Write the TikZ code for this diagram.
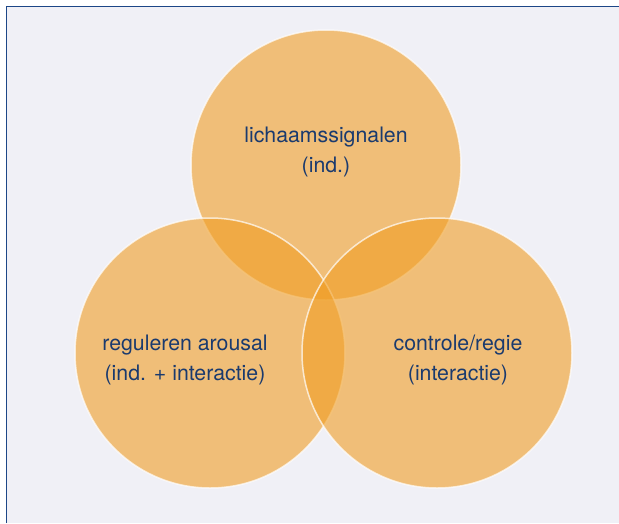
\documentclass[tikz,border=0pt]{standalone}
\usepackage{fontspec}
\setmainfont{TeX Gyre Heros}
\definecolor{bgpanel}{RGB}{240,240,246}
\definecolor{framecol}{RGB}{28,70,135}
\definecolor{circfill}{RGB}{240,158,36}
\definecolor{textnavy}{RGB}{26,58,110}
\tikzset{
  venn/.style={fill=circfill, fill opacity=0.6, draw=white, draw opacity=0.7, line width=1.5pt},
  lbl/.style={text=textnavy, align=center, font=\fontsize{21.3}{29.5}\selectfont, inner sep=0pt}
}
\begin{document}
\begin{tikzpicture}[x=1pt,y=-1pt]
\useasboundingbox (0,0) rectangle (619,523);
\fill[white] (0,0) rectangle (619,523);
\fill[bgpanel] (6.5,6.5) rectangle (619,523);
\draw[framecol, line width=1.8pt] (6.5,523) -- (6.5,6.5) -- (619,6.5);
\path[venn] (326,165) circle[radius=135];
\path[venn] (210,353) circle[radius=135];
\path[venn] (437,353) circle[radius=135];
\node[lbl] (top) at (326,152) {lichaamssignalen\\(ind.)};
\node[lbl] (left) at (185,360) {reguleren arousal\\(ind. + interactie)};
\node[lbl] (right) at (458,360) {controle/regie\\(interactie)};
\end{tikzpicture}
\end{document}
